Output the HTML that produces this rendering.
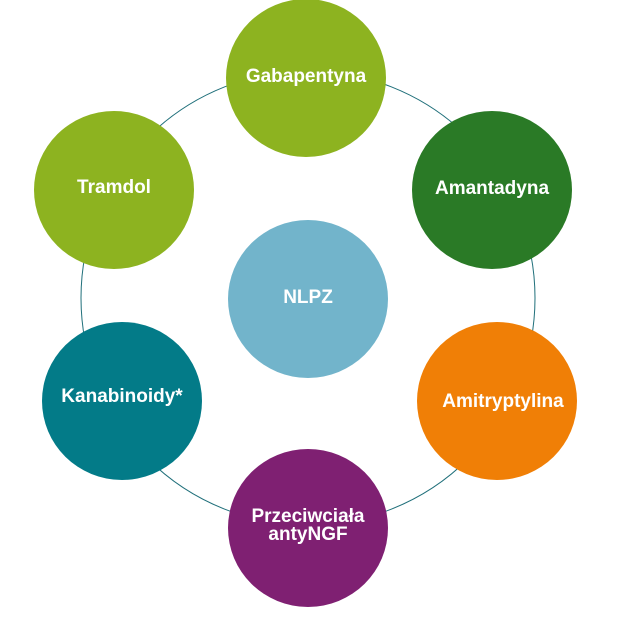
<!DOCTYPE html>
<html><head><style>
body{margin:0;background:#fff;width:620px;height:614px;overflow:hidden}
svg text{font-family:"Liberation Sans Narrow","Liberation Sans",sans-serif;font-weight:bold;fill:#fff;font-size:19px;text-anchor:middle}
</style></head><body>
<svg width="620" height="614" viewBox="0 0 620 614">
<circle cx="308" cy="298" r="227" fill="none" stroke="#1f6f7a" stroke-width="1"/>
<ellipse cx="306" cy="78" rx="80" ry="79" fill="#8db320"/>
<ellipse cx="492" cy="190" rx="80" ry="79" fill="#2a7a26"/>
<ellipse cx="114" cy="190" rx="80" ry="79" fill="#8db320"/>
<ellipse cx="308" cy="299" rx="80" ry="79" fill="#72b4cb"/>
<ellipse cx="122" cy="401" rx="80" ry="79" fill="#037b88"/>
<ellipse cx="497" cy="401" rx="80" ry="79" fill="#f07f06"/>
<ellipse cx="308" cy="528" rx="80" ry="79" fill="#7f2072"/>
<text x="306" y="82">Gabapentyna</text>
<text x="492" y="194">Amantadyna</text>
<text x="114" y="193">Tramdol</text>
<text x="308" y="303">NLPZ</text>
<text x="122" y="402">Kanabinoidy*</text>
<text x="503" y="407">Amitryptylina</text>
<text x="308" y="522">Przeciwciała</text>
<text x="308" y="540">antyNGF</text>
</svg>
</body></html>
